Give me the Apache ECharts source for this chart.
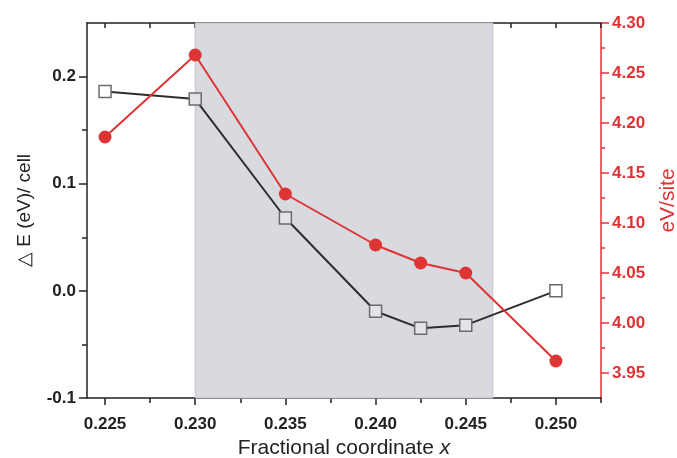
<!DOCTYPE html>
<html>
<head>
<meta charset="utf-8">
<script src="https://cdn.jsdelivr.net/npm/echarts@6/dist/echarts.min.js"></script>
<style>
  html, body { margin: 0; padding: 0; background: #fff; }
  #chart { width: 677px; height: 458px; }
</style>
</head>
<body>
<div id="chart"></div>
<script>
// fractional coordinate x
var xValues = [0.225, 0.230, 0.235, 0.240, 0.2425, 0.245, 0.250];
// ΔE per cell (left axis)
var deltaE = [0.186, 0.179, 0.068, -0.019, -0.035, -0.032, 0.000];
// eV per site (right axis)
var evSite = [4.186, 4.268, 4.129, 4.078, 4.060, 4.050, 3.962];

var xMajor = [0.225, 0.230, 0.235, 0.240, 0.245, 0.250];
var xMinor = [0.2275, 0.2325, 0.2375, 0.2425, 0.2475, 0.2525];
var leftMajor = [-0.1, 0.0, 0.1, 0.2];
var leftMinor = [-0.05, 0.05, 0.15];
var rightMajor = [3.95, 4.00, 4.05, 4.10, 4.15, 4.20, 4.25, 4.30];
var rightMinor = [3.975, 4.025, 4.075, 4.125, 4.175, 4.225, 4.275];
var shadeRange = [0.230, 0.2465];

var RED = '#de3434';
var SHADE = '#d8dadf';
var FONT = 'Liberation Sans, Arial, sans-serif';

var chart = echarts.init(document.getElementById('chart'));

var squareData = xValues.map(function (x, i) {
    var inside = x >= shadeRange[0] && x <= shadeRange[1];
    return {
        value: [x, deltaE[i]],
        itemStyle: { color: inside ? '#e3e4e8' : '#ffffff' }
    };
});
var circleData = xValues.map(function (x, i) { return [x, evSite[i]]; });

var tickLabel = { fontFamily: FONT, fontWeight: 'bold', fontSize: 17 };
var xMin = 0.224, xMax = 0.2525;
var lMin = -0.1, lMax = 0.25;
var rMin = 3.925, rMax = 4.30;

var option = {
    animation: false,
    grid: { left: 87, right: 76, top: 23, bottom: 60, containLabel: false, outerBoundsMode: 'none' },
    xAxis: [
        {
            type: 'value', min: xMin, max: xMax, position: 'bottom',
            name: '{n|Fractional coordinate }{i|x}',
            nameLocation: 'middle', nameGap: 40,
            nameTextStyle: {
                rich: {
                    n: { fontFamily: FONT, fontSize: 21, color: '#222' },
                    i: { fontFamily: FONT, fontSize: 21, color: '#222', fontStyle: 'italic' }
                }
            },
            axisLine: { show: true, onZero: false, lineStyle: { color: '#222', width: 1.5 } },
            axisTick: { show: true, length: 7, customValues: xMajor, lineStyle: { color: '#222', width: 1.5 } },
            axisLabel: Object.assign({ color: '#222', margin: 18, customValues: xMajor,
                formatter: function (v) { return v.toFixed(3); } }, tickLabel),
            splitLine: { show: false }
        },
        {
            type: 'value', min: xMin, max: xMax, position: 'bottom',
            axisLine: { show: false, onZero: false },
            axisTick: { show: true, length: 5, customValues: xMinor, lineStyle: { color: '#222', width: 1.5 } },
            axisLabel: { show: false },
            splitLine: { show: false }
        },
        {
            type: 'value', min: xMin, max: xMax, position: 'top',
            axisLine: { show: true, onZero: false, lineStyle: { color: '#222', width: 1.5 } },
            axisTick: { show: true, inside: true, length: 5, customValues: xMajor.concat(xMinor),
                lineStyle: { color: '#222', width: 1.5 } },
            axisLabel: { show: false },
            splitLine: { show: false }
        }
    ],
    yAxis: [
        {
            type: 'value', min: lMin, max: lMax, position: 'left',
            name: '\u25B3 E (eV)/ cell',
            nameLocation: 'middle', nameGap: 53, nameRotate: 90,
            nameTextStyle: { fontFamily: FONT, fontSize: 19, color: '#222' },
            axisLine: { show: true, onZero: false, lineStyle: { color: '#222', width: 1.5 } },
            axisTick: { show: true, length: 8, customValues: leftMajor, lineStyle: { color: '#222', width: 1.5 } },
            axisLabel: Object.assign({ color: '#222', margin: 11, customValues: leftMajor,
                formatter: function (v) { return v.toFixed(1); } }, tickLabel),
            splitLine: { show: false }
        },
        {
            type: 'value', min: lMin, max: lMax, position: 'left',
            axisLine: { show: false, onZero: false },
            axisTick: { show: true, length: 5, customValues: leftMinor, lineStyle: { color: '#222', width: 1.5 } },
            axisLabel: { show: false },
            splitLine: { show: false }
        },
        {
            type: 'value', min: rMin, max: rMax, position: 'right',
            name: 'eV/site',
            nameLocation: 'middle', nameGap: 57, nameRotate: 90,
            nameTextStyle: { fontFamily: FONT, fontSize: 21, color: RED, padding: [0, 0, 0, 20] },
            axisLine: { show: true, onZero: false, lineStyle: { color: RED, width: 1.5 } },
            axisTick: { show: true, length: 8, customValues: rightMajor, lineStyle: { color: RED, width: 1.5 } },
            axisLabel: Object.assign({ color: RED, margin: 11, customValues: rightMajor,
                formatter: function (v) { return v.toFixed(2); } }, tickLabel),
            splitLine: { show: false }
        },
        {
            type: 'value', min: rMin, max: rMax, position: 'right',
            axisLine: { show: false, onZero: false },
            axisTick: { show: true, length: 4, customValues: rightMinor, lineStyle: { color: RED, width: 1.5 } },
            axisLabel: { show: false },
            splitLine: { show: false }
        }
    ],
    series: [
        {
            name: 'deltaE',
            type: 'line',
            xAxisIndex: 0, yAxisIndex: 0,
            data: squareData,
            symbol: 'rect', symbolSize: 12,
            itemStyle: { borderColor: '#6b6b6b', borderWidth: 1.5 },
            lineStyle: { color: '#2d2d2d', width: 2 },
            z: 3,
            markArea: {
                silent: true,
                itemStyle: { color: SHADE, borderColor: '#c4c6cb', borderWidth: 1 },
                data: [[{ xAxis: shadeRange[0] }, { xAxis: shadeRange[1] }]]
            }
        },
        {
            name: 'evSite',
            type: 'line',
            xAxisIndex: 0, yAxisIndex: 2,
            data: circleData,
            symbol: 'circle', symbolSize: 13,
            itemStyle: { color: RED },
            lineStyle: { color: RED, width: 2 },
            z: 4
        }
    ]
};

chart.setOption(option);
</script>
</body>
</html>
